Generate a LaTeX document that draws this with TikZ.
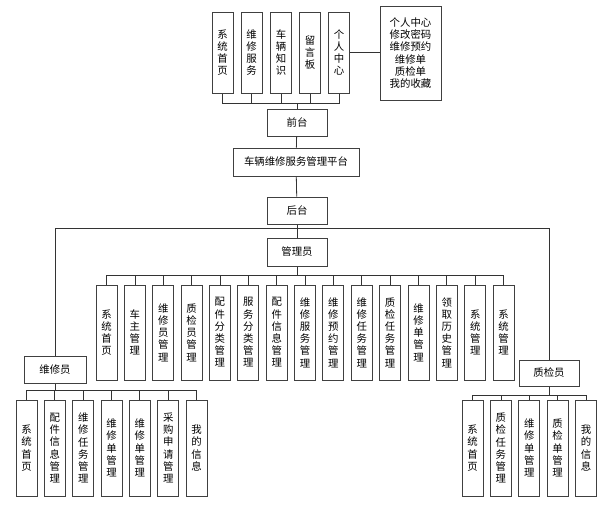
\documentclass[tikz,border=0pt]{standalone}
\usepackage{fontspec}
\setmainfont{Noto Sans CJK SC}
\tikzset{
  box/.style={draw=black!75, line width=1pt, inner sep=0pt, align=center,
    font=\fontsize{10.4}{12.2}\selectfont},
  hbox/.style={box, minimum width=60, minimum height=27},
  vcell/.style={box, minimum width=21, minimum height=95},
  topcell/.style={box, minimum width=21, minimum height=81},
  link/.style={draw=black!80, line width=0.8pt}
}
\begin{document}
\begin{tikzpicture}[x=1pt,y=-1pt]
		\useasboundingbox[fill=white] (0,0) rectangle (616,507);

		% front end
		\node[topcell] (f1) at (222.5,52.5) {系\\统\\首\\页};
		\node[topcell] (f2) at (251.5,52.5) {维\\修\\服\\务};
		\node[topcell] (f3) at (281,52.5) {车\\辆\\知\\识};
		\node[topcell] (f4) at (310,52.5) {留\\言\\板};
		\node[topcell] (f5) at (339,52.5) {个\\人\\中\\心};
		\node[box, minimum width=61, minimum height=94] (grzx) at (410.5,53) {个人中心\\修改密码\\维修预约\\维修单\\质检单\\我的收藏};

		\node[hbox] (qt) at (297,122.5) {前台};
		\node[box, minimum width=126, minimum height=28] (pt) at (296,162) {车辆维修服务管理平台};
		\node[hbox] (ht) at (297,210.5) {后台};
		\node[hbox, minimum height=28] (gly) at (297,252) {管理员};
		\node[hbox, minimum width=62] (wxy) at (55,369.5) {维修员};
		\node[hbox, minimum height=26] (zjy) at (549,373) {质检员};

		% admin
		\node[vcell] (a1) at (106.5,332.5) {系\\统\\首\\页};
		\node[vcell] (a2) at (134.9,332.5) {车\\主\\管\\理};
		\node[vcell] (a3) at (163.2,332.5) {维\\修\\员\\管\\理};
		\node[vcell] (a4) at (191.6,332.5) {质\\检\\员\\管\\理};
		\node[vcell] (a5) at (219.9,332.5) {配\\件\\分\\类\\管\\理};
		\node[vcell] (a6) at (248.3,332.5) {服\\务\\分\\类\\管\\理};
		\node[vcell] (a7) at (276.7,332.5) {配\\件\\信\\息\\管\\理};
		\node[vcell] (a8) at (305,332.5) {维\\修\\服\\务\\管\\理};
		\node[vcell] (a9) at (333.4,332.5) {维\\修\\预\\约\\管\\理};
		\node[vcell] (a10) at (361.7,332.5) {维\\修\\任\\务\\管\\理};
		\node[vcell] (a11) at (390.1,332.5) {质\\检\\任\\务\\管\\理};
		\node[vcell] (a12) at (418.5,332.5) {维\\修\\单\\管\\理};
		\node[vcell] (a13) at (446.8,332.5) {领\\取\\历\\史\\管\\理};
		\node[vcell] (a14) at (475.2,332.5) {系\\统\\管\\理};
		\node[vcell] (a15) at (503.5,332.5) {系\\统\\管\\理};

		% repairman
		\node[vcell, minimum height=96] (w1) at (26.5,448) {系\\统\\首\\页};
		\node[vcell, minimum height=96] (w2) at (54.8,448) {配\\件\\信\\息\\管\\理};
		\node[vcell, minimum height=96] (w3) at (83.2,448) {维\\修\\任\\务\\管\\理};
		\node[vcell, minimum height=96] (w4) at (111.5,448) {维\\修\\单\\管\\理};
		\node[vcell, minimum height=96] (w5) at (139.8,448) {维\\修\\单\\管\\理};
		\node[vcell, minimum height=96] (w6) at (168.2,448) {采\\购\\申\\请\\管\\理};
		\node[vcell, minimum height=96] (w7) at (196.5,448) {我\\的\\信\\息};

		% inspector
		\node[vcell, minimum height=96] (q1) at (472.5,448) {系\\统\\首\\页};
		\node[vcell, minimum height=96] (q2) at (500.9,448) {质\\检\\任\\务\\管\\理};
		\node[vcell, minimum height=96] (q3) at (529.3,448) {维\\修\\单\\管\\理};
		\node[vcell, minimum height=96] (q4) at (557.6,448) {质\\检\\单\\管\\理};
		\node[vcell, minimum height=96] (q5) at (586,448) {我\\的\\信\\息};

		\coordinate (fbus) at (297,103);
		\coordinate (split) at (297,228);
		\coordinate (abus) at (297,275);
		\coordinate (wbus) at (55,390);
		\coordinate (qbus) at (549,395);

		\draw[link] (f1.south) |- (fbus); \draw[link] (f2.south) |- (fbus);
		\draw[link] (f3.south) |- (fbus); \draw[link] (f4.south) |- (fbus);
		\draw[link] (f5.south) |- (fbus);
		\draw[link] (f5.east) -- (grzx.west |- f5.east);
		\draw[link] (fbus) -- (qt.north);
		\draw[link] (qt) -- (pt);
		\draw[link] (pt) -- (ht);
		\draw[link] (ht) -- (gly);
		\draw[link] (wxy.north) |- (split); \draw[link] (zjy.north) |- (split);

		\draw[link] (gly.south) -- (abus);
		\draw[link] (a1.north) |- (abus); \draw[link] (a2.north) |- (abus);
		\draw[link] (a3.north) |- (abus); \draw[link] (a4.north) |- (abus);
		\draw[link] (a5.north) |- (abus); \draw[link] (a6.north) |- (abus);
		\draw[link] (a7.north) |- (abus); \draw[link] (a8.north) |- (abus);
		\draw[link] (a9.north) |- (abus); \draw[link] (a10.north) |- (abus);
		\draw[link] (a11.north) |- (abus); \draw[link] (a12.north) |- (abus);
		\draw[link] (a13.north) |- (abus); \draw[link] (a14.north) |- (abus);
		\draw[link] (a15.north) |- (abus);

		\draw[link] (wxy.south) -- (wbus);
		\draw[link] (w1.north) |- (wbus); \draw[link] (w2.north) |- (wbus);
		\draw[link] (w3.north) |- (wbus); \draw[link] (w4.north) |- (wbus);
		\draw[link] (w5.north) |- (wbus); \draw[link] (w6.north) |- (wbus);
		\draw[link] (w7.north) |- (wbus);

		\draw[link] (zjy.south) -- (qbus);
		\draw[link] (q1.north) |- (qbus); \draw[link] (q2.north) |- (qbus);
		\draw[link] (q3.north) |- (qbus); \draw[link] (q4.north) |- (qbus);
		\draw[link] (q5.north) |- (qbus);
\end{tikzpicture}
\end{document}
